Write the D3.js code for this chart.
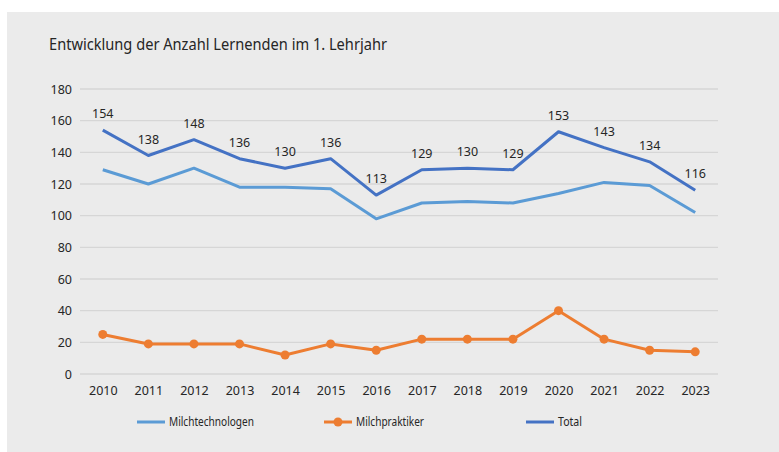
<!DOCTYPE html>
<html>
<head>
<meta charset="utf-8">
<script src="https://cdn.jsdelivr.net/npm/d3@7"></script>
<style>
  body { margin: 0; background: #fff; }
  svg text { font-family: "Noto Sans", sans-serif; fill: #262626; }
</style>
</head>
<body>
<svg id="chart" width="779" height="452"></svg>
<script>
// data
var years = ["2010","2011","2012","2013","2014","2015","2016","2017","2018","2019","2020","2021","2022","2023"];
var milchtechnologen = [129, 120, 130, 118, 118, 117, 98, 108, 109, 108, 114, 121, 119, 102];
var milchpraktiker = [25, 19, 19, 19, 12, 19, 15, 22, 22, 22, 40, 22, 15, 14];
var total = [154, 138, 148, 136, 130, 136, 113, 129, 130, 129, 153, 143, 134, 116];
var yTicks = [0, 20, 40, 60, 80, 100, 120, 140, 160, 180];

var colTech = "#5B9BD5", colPrakt = "#ED7D31", colTotal = "#4472C4";

var svg = d3.select("#chart");

// grey panel
svg.append("rect")
    .attr("x", 7).attr("y", 12)
    .attr("width", 772).attr("height", 440)
    .attr("fill", "#ebebeb");

svg.append("text")
    .attr("x", 49).attr("y", 50)
    .attr("font-size", 15.5)
    .attr("textLength", 338)
    .attr("lengthAdjust", "spacingAndGlyphs")
    .text("Entwicklung der Anzahl Lernenden im 1. Lehrjahr");

var x = d3.scalePoint().domain(years).range([80, 718]).padding(0.5);
var y = d3.scaleLinear().domain([0, 180]).range([374, 89]);

// gridlines
svg.append("g").selectAll("line")
    .data(yTicks)
    .enter().append("line")
    .attr("x1", 80).attr("x2", 718)
    .attr("y1", function(d) { return y(d); })
    .attr("y2", function(d) { return y(d); })
    .attr("stroke", "#d6d6d6")
    .attr("stroke-width", 1.3);

// y axis labels
var yAxis = svg.append("g")
    .attr("transform", "translate(72,0)")
    .call(d3.axisLeft(y).tickValues(yTicks).tickSize(0).tickPadding(0));
yAxis.select(".domain").remove();
yAxis.selectAll("text").attr("font-size", 12.5).attr("fill", "#262626")
    .attr("font-family", "Noto Sans");

// x axis labels
var xAxis = svg.append("g")
    .attr("transform", "translate(0,386)")
    .call(d3.axisBottom(x).tickSize(0).tickPadding(0));
xAxis.select(".domain").remove();
xAxis.selectAll("text").attr("font-size", 12.5).attr("fill", "#262626")
    .attr("font-family", "Noto Sans");

var line = d3.line()
    .x(function(d, i) { return x(years[i]); })
    .y(function(d) { return y(d); });

function drawLine(values, color) {
    svg.append("path")
        .datum(values)
        .attr("d", line)
        .attr("fill", "none")
        .attr("stroke", color)
        .attr("stroke-width", 3)
        .attr("stroke-linejoin", "round");
}

drawLine(milchtechnologen, colTech);
drawLine(milchpraktiker, colPrakt);
drawLine(total, colTotal);

// markers for Milchpraktiker
svg.append("g").selectAll("circle")
    .data(milchpraktiker)
    .enter().append("circle")
    .attr("cx", function(d, i) { return x(years[i]); })
    .attr("cy", function(d) { return y(d); })
    .attr("r", 4.5)
    .attr("fill", colPrakt);

// value labels on total
svg.append("g").selectAll("text")
    .data(total)
    .enter().append("text")
    .attr("x", function(d, i) { return x(years[i]); })
    .attr("y", function(d) { return y(d) - 12; })
    .attr("text-anchor", "middle")
    .attr("font-size", 12.5)
    .text(function(d) { return d; });

// legend
var legend = [
    {name: "Milchtechnologen", color: colTech, x: 137, w: 85, marker: false},
    {name: "Milchpraktiker", color: colPrakt, x: 324, w: 68, marker: true},
    {name: "Total", color: colTotal, x: 526, w: 24, marker: false}
];
var lg = svg.append("g").selectAll("g")
    .data(legend)
    .enter().append("g")
    .attr("transform", function(d) { return "translate(" + d.x + ",422)"; });
lg.append("line")
    .attr("x1", 0).attr("x2", 28)
    .attr("stroke", function(d) { return d.color; })
    .attr("stroke-width", 3);
lg.filter(function(d) { return d.marker; })
    .append("circle")
    .attr("cx", 14).attr("r", 4.5)
    .attr("fill", function(d) { return d.color; });
lg.append("text")
    .attr("x", 32).attr("dy", "0.35em")
    .attr("font-size", 12.5)
    .attr("textLength", function(d) { return d.w; })
    .attr("lengthAdjust", "spacingAndGlyphs")
    .text(function(d) { return d.name; });
</script>
</body>
</html>
